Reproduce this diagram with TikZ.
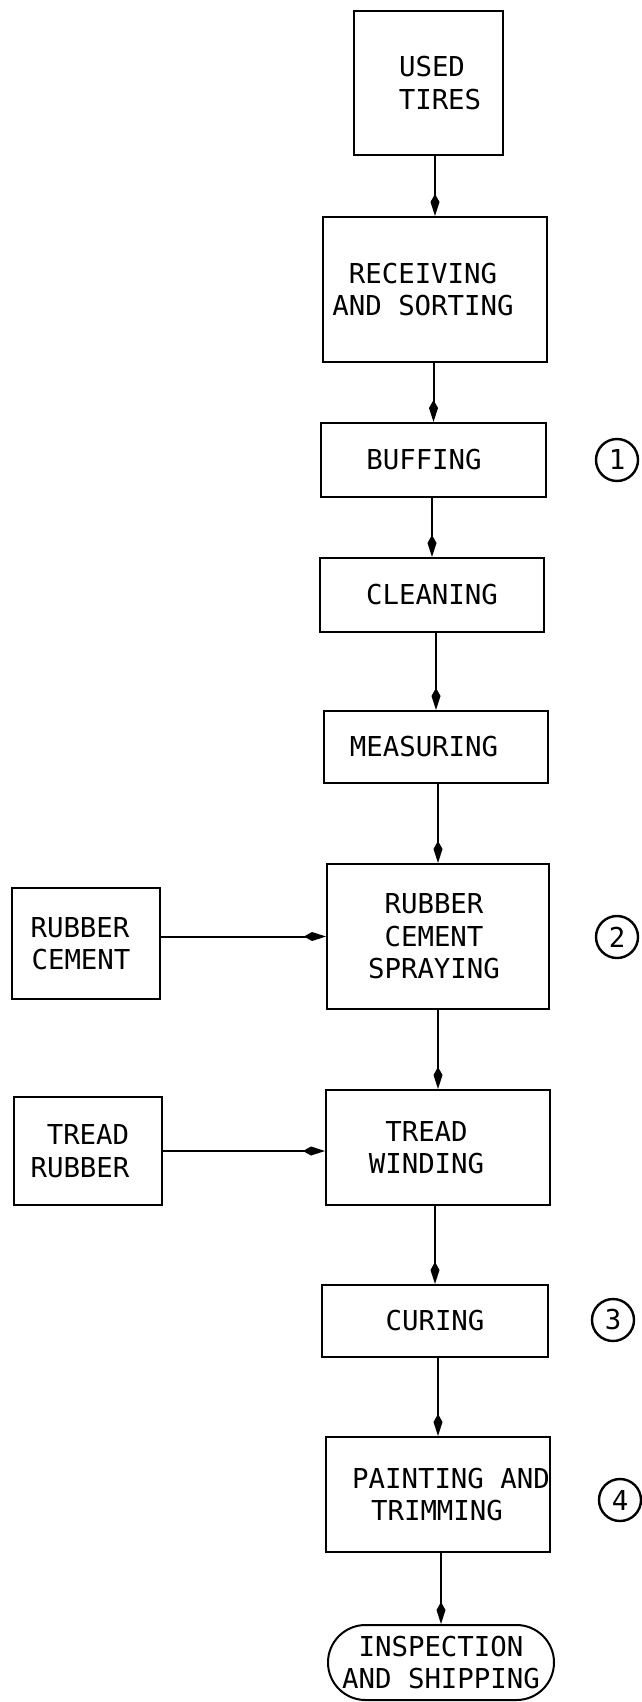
\documentclass[tikz,border=0pt]{standalone}
\usepackage{fontspec}
\setmonofont{DejaVu Sans Mono}
\usetikzlibrary{arrows.meta,shapes.misc}
\newcommand\hpad[1]{\hbox to #1pt{}}
\begin{document}
\begin{tikzpicture}[x=1pt,y=-1pt,
  every node/.style={font=\ttfamily\fontsize{27.4}{32.5}\selectfont},
  box/.style={draw,line width=2pt,rectangle,inner sep=0pt,align=center},
  term/.style={draw,line width=2pt,rounded rectangle,inner sep=0pt,align=center},
  circ/.style={draw,line width=2.4pt,circle,inner sep=0pt,minimum size=42pt},
  arr/.style={line width=2pt,-{Kite[length=22pt,width=9pt,inset=8pt]}}]
\useasboundingbox (0,0) rectangle (641,1702);
\node[box,minimum width=149pt,minimum height=144pt] (used) at (428.5,83) {\hpad{7}USED\\\hpad{23}TIRES};
\node[box,minimum width=224pt,minimum height=145pt] (recv) at (435,289.5) {RECEIVING\hpad{24}\\AND SORTING\hpad{24}};
\node[box,minimum width=225pt,minimum height=74pt] (buff) at (433.5,460) {BUFFING\hpad{19}};
\node[box,minimum width=224pt,minimum height=74pt] (clean) at (432,595) {CLEANING};
\node[box,minimum width=224pt,minimum height=72pt] (meas) at (436,747) {MEASURING\hpad{24}};
\node[box,minimum width=222pt,minimum height=145pt] (rcs) at (438,936.5) {RUBBER\hpad{8}\\CEMENT\hpad{8}\\SPRAYING\hpad{8}};
\node[box,minimum width=224pt,minimum height=115pt] (tw) at (438,1147.5) {TREAD\hpad{23}\\WINDING\hpad{23}};
\node[box,minimum width=226pt,minimum height=72pt] (cure) at (435,1321) {CURING};
\node[box,minimum width=224pt,minimum height=115pt] (paint) at (438,1494.5) {\hpad{26}PAINTING AND\\TRIMMING\hpad{2}};
\node[term,minimum width=226pt,minimum height=75pt] (insp) at (441,1662.5) {INSPECTION\\AND SHIPPING};
\node[box,minimum width=148pt,minimum height=111pt] (rc) at (86,943.5) {RUBBER\hpad{12}\\CEMENT\hpad{10}};
\node[box,minimum width=148pt,minimum height=108pt] (tr) at (88,1151) {TREAD\\RUBBER\hpad{16}};
\node[circ] (c1) at (617,460) {1};
\node[circ] (c2) at (617,937) {2};
\node[circ] (c3) at (613,1320) {3};
\node[circ] (c4) at (620,1500) {4};
\draw[arr] (recv.north |- used.south) -- (recv.north);
\draw[arr] (buff.north |- recv.south) -- (buff.north);
\draw[arr] (clean.north |- buff.south) -- (clean.north);
\draw[arr] (meas.north |- clean.south) -- (meas.north);
\draw[arr] (rcs.north |- meas.south) -- (rcs.north);
\draw[arr] (tw.north |- rcs.south) -- (tw.north);
\draw[arr] (cure.north |- tw.south) -- (cure.north);
\draw[arr] (paint.north |- cure.south) -- (paint.north);
\draw[arr] (insp.north |- paint.south) -- (insp.north);
\draw[arr] (rc.east |- rcs.west) -- (rcs.west);
\draw[arr] (tr.east) -- (tr.east -| tw.west);
\end{tikzpicture}
\end{document}
